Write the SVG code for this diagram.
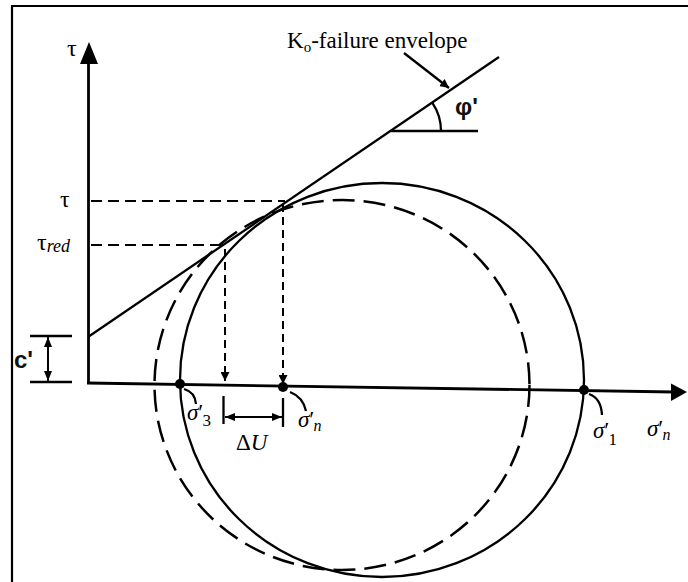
<svg xmlns="http://www.w3.org/2000/svg" width="688" height="582" viewBox="0 0 688 582">
<style>
.ln{stroke:#000;stroke-width:2.3;fill:none}
.ax{stroke:#000;stroke-width:2.8;fill:none}
.dh{stroke:#000;stroke-width:2.2;fill:none;stroke-dasharray:11 6}
.dv{stroke:#000;stroke-width:2;fill:none;stroke-dasharray:8 5}
.dc{stroke:#000;stroke-width:2.5;fill:none;stroke-dasharray:22 9}
.serif{font-family:"Liberation Serif","Times New Roman",serif;fill:#000}
.it{font-style:italic}
.bold{font-family:"Liberation Sans",Arial,sans-serif;font-weight:bold;fill:#111}
.dot{fill:#000}
</style>
<defs>
<marker id="ah" viewBox="0 0 10 10" refX="10" refY="5" markerWidth="9" markerHeight="9" markerUnits="userSpaceOnUse" orient="auto"><path d="M0,0 L10,5 L0,10 z" fill="#000"/></marker>
<marker id="ahs" viewBox="0 0 10 10" refX="10" refY="5" markerWidth="10" markerHeight="10" markerUnits="userSpaceOnUse" orient="auto-start-reverse"><path d="M0,1 L10,5 L0,9 z" fill="#000"/></marker>
</defs>
<rect width="688" height="582" fill="#fff"/>
<g id="frame">
<line x1="12" y1="6" x2="688" y2="6" stroke="#000" stroke-width="2.2"/>
<line x1="12" y1="5" x2="12" y2="582" stroke="#000" stroke-width="2.2"/>
</g>
<g id="axes">
<line class="ax" x1="88.5" y1="60" x2="88.5" y2="384"/>
<polygon points="89,42 80,64 98,64" fill="#000"/>
<line class="ax" x1="87" y1="383" x2="674" y2="392"/>
<polygon points="687,392 671,383.5 671,401" fill="#000"/>
<text class="serif" x="67" y="56" font-size="24">τ</text>
<text class="serif" x="647" y="436" font-size="23"><tspan class="it">σ</tspan>′<tspan class="it" font-size="16" dx="-1" dy="4">n</tspan></text>
</g>
<g id="envelope">
<line class="ln" x1="88" y1="337" x2="499" y2="57"/>
<line class="ln" x1="391" y1="131" x2="478" y2="131"/>
<path class="ln" d="M432.4,102.9 A50,50 0 0 1 441,131"/>
<text class="bold" x="455" y="115" font-size="24">φ'</text>
<line class="ln" x1="404" y1="53" x2="449" y2="88" marker-end="url(#ah)"/>
<text class="serif" x="287" y="48" font-size="23">K<tspan font-size="15" dy="4">o</tspan><tspan dy="-4">-failure envelope</tspan></text>
</g>
<g id="solid-circle">
<ellipse class="ln" cx="382" cy="380" rx="202" ry="197"/>
</g>
<g id="dashed-circle">
<ellipse class="dc" cx="342" cy="385" rx="187.5" ry="185"/>
</g>
<g id="connectors">
<line class="dh" x1="91" y1="201" x2="285" y2="201"/>
<line class="dh" x1="91" y1="245" x2="222" y2="245"/>
<line class="dv" x1="283" y1="204" x2="283" y2="384" marker-end="url(#ah)"/>
<line class="dv" x1="225" y1="249" x2="225" y2="381" marker-end="url(#ah)"/>
<line class="ln" x1="30" y1="336" x2="72" y2="336"/>
<line class="ln" x1="30" y1="382" x2="72" y2="382"/>
<line stroke="#000" stroke-width="2" x1="48" y1="337" x2="48" y2="381" marker-start="url(#ahs)" marker-end="url(#ahs)"/>
<line class="ln" x1="223.5" y1="396" x2="223.5" y2="424"/>
<line class="ln" x1="283" y1="398" x2="283" y2="427"/>
<line stroke="#000" stroke-width="2" x1="225" y1="417" x2="282" y2="417" marker-start="url(#ahs)" marker-end="url(#ahs)"/>
<path class="ln" d="M184,389 Q195,392 196,404"/>
<path class="ln" d="M290,392 Q303,397 306,411"/>
<path class="ln" d="M589,394 Q601,398 602,415"/>
</g>
<g id="points">
<circle class="dot" cx="180" cy="384" r="5"/>
<circle class="dot" cx="283" cy="387" r="5"/>
<circle class="dot" cx="584" cy="390" r="5"/>
</g>
<g id="labels">
<text class="serif" x="60" y="207" font-size="24">τ</text>
<text class="serif" x="37" y="250" font-size="24">τ<tspan class="it" font-size="18" dy="2">red</tspan></text>
<text class="bold" x="14" y="368" font-size="24">c'</text>
<text class="serif" x="187" y="420" font-size="23"><tspan class="it">σ</tspan>′<tspan font-size="17" dx="-1" dy="6">3</tspan></text>
<text class="serif" x="236" y="450" font-size="23">Δ<tspan class="it">U</tspan></text>
<text class="serif" x="298" y="427" font-size="23"><tspan class="it">σ</tspan>′<tspan class="it" font-size="16" dx="-1" dy="4">n</tspan></text>
<text class="serif" x="593" y="438" font-size="23"><tspan class="it">σ</tspan>′<tspan font-size="17" dx="-1" dy="7">1</tspan></text>
</g>
</svg>
